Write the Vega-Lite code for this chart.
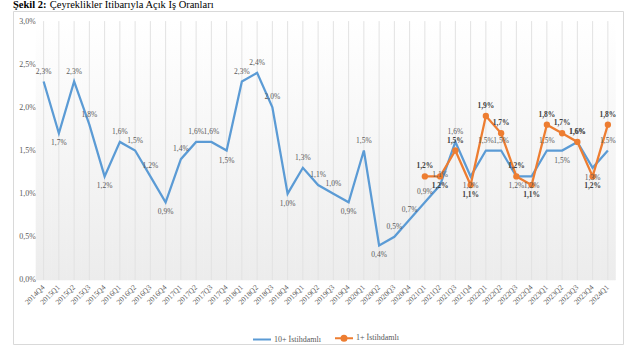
{
  "$schema": "https://vega.github.io/schema/vega-lite/v6.json",
  "width": 610,
  "height": 333,
  "autosize": {"type": "none"},
  "padding": {"left": 13, "top": 11, "right": 17, "bottom": 16},
  "background": "white",
  "config": {"view": {"stroke": "#d9d9d9", "strokeWidth": 1}, "font": "Liberation Serif"},
  "title": {
    "text": "Şekil 2:",
    "subtitle": "\u200b\u00a0\u00a0\u00a0\u00a0\u00a0\u00a0\u00a0\u00a0\u00a0\u00a0\u00a0\u00a0\u00a0\u00a0Çeyreklikler İtibarıyla Açık İş Oranları",
    "anchor": "start",
    "frame": "group",
    "font": "Liberation Serif",
    "fontSize": 10.5,
    "fontWeight": "bold",
    "color": "#000000",
    "subtitleFont": "Liberation Serif",
    "subtitleFontSize": 10.5,
    "subtitleColor": "#000000",
    "subtitleFontWeight": "normal",
    "subtitlePadding": -10.5,
    "offset": 1
  },
  "data": {
    "values": [
      {"q": "2014Q4", "s": "10+ İstihdamlı", "v": 2.3},
      {"q": "2015Q1", "s": "10+ İstihdamlı", "v": 1.7},
      {"q": "2015Q2", "s": "10+ İstihdamlı", "v": 2.3},
      {"q": "2015Q3", "s": "10+ İstihdamlı", "v": 1.8},
      {"q": "2015Q4", "s": "10+ İstihdamlı", "v": 1.2},
      {"q": "2016Q1", "s": "10+ İstihdamlı", "v": 1.6},
      {"q": "2016Q2", "s": "10+ İstihdamlı", "v": 1.5},
      {"q": "2016Q3", "s": "10+ İstihdamlı", "v": 1.2},
      {"q": "2016Q4", "s": "10+ İstihdamlı", "v": 0.9},
      {"q": "2017Q1", "s": "10+ İstihdamlı", "v": 1.4},
      {"q": "2017Q2", "s": "10+ İstihdamlı", "v": 1.6},
      {"q": "2017Q3", "s": "10+ İstihdamlı", "v": 1.6},
      {"q": "2017Q4", "s": "10+ İstihdamlı", "v": 1.5},
      {"q": "2018Q1", "s": "10+ İstihdamlı", "v": 2.3},
      {"q": "2018Q2", "s": "10+ İstihdamlı", "v": 2.4},
      {"q": "2018Q3", "s": "10+ İstihdamlı", "v": 2.0},
      {"q": "2018Q4", "s": "10+ İstihdamlı", "v": 1.0},
      {"q": "2019Q1", "s": "10+ İstihdamlı", "v": 1.3},
      {"q": "2019Q2", "s": "10+ İstihdamlı", "v": 1.1},
      {"q": "2019Q3", "s": "10+ İstihdamlı", "v": 1.0},
      {"q": "2019Q4", "s": "10+ İstihdamlı", "v": 0.9},
      {"q": "2020Q1", "s": "10+ İstihdamlı", "v": 1.5},
      {"q": "2020Q2", "s": "10+ İstihdamlı", "v": 0.4},
      {"q": "2020Q3", "s": "10+ İstihdamlı", "v": 0.5},
      {"q": "2020Q4", "s": "10+ İstihdamlı", "v": 0.7},
      {"q": "2021Q1", "s": "10+ İstihdamlı", "v": 0.9},
      {"q": "2021Q2", "s": "10+ İstihdamlı", "v": 1.1},
      {"q": "2021Q3", "s": "10+ İstihdamlı", "v": 1.6},
      {"q": "2021Q4", "s": "10+ İstihdamlı", "v": 1.2},
      {"q": "2022Q1", "s": "10+ İstihdamlı", "v": 1.5},
      {"q": "2022Q2", "s": "10+ İstihdamlı", "v": 1.5},
      {"q": "2022Q3", "s": "10+ İstihdamlı", "v": 1.2},
      {"q": "2022Q4", "s": "10+ İstihdamlı", "v": 1.2},
      {"q": "2023Q1", "s": "10+ İstihdamlı", "v": 1.5},
      {"q": "2023Q2", "s": "10+ İstihdamlı", "v": 1.5},
      {"q": "2023Q3", "s": "10+ İstihdamlı", "v": 1.6},
      {"q": "2023Q4", "s": "10+ İstihdamlı", "v": 1.3},
      {"q": "2024Q1", "s": "10+ İstihdamlı", "v": 1.5},
      {"q": "2021Q1", "s": "1+ İstihdamlı", "v": 1.2},
      {"q": "2021Q2", "s": "1+ İstihdamlı", "v": 1.2},
      {"q": "2021Q3", "s": "1+ İstihdamlı", "v": 1.5},
      {"q": "2021Q4", "s": "1+ İstihdamlı", "v": 1.1},
      {"q": "2022Q1", "s": "1+ İstihdamlı", "v": 1.9},
      {"q": "2022Q2", "s": "1+ İstihdamlı", "v": 1.7},
      {"q": "2022Q3", "s": "1+ İstihdamlı", "v": 1.2},
      {"q": "2022Q4", "s": "1+ İstihdamlı", "v": 1.1},
      {"q": "2023Q1", "s": "1+ İstihdamlı", "v": 1.8},
      {"q": "2023Q2", "s": "1+ İstihdamlı", "v": 1.7},
      {"q": "2023Q3", "s": "1+ İstihdamlı", "v": 1.6},
      {"q": "2023Q4", "s": "1+ İstihdamlı", "v": 1.2},
      {"q": "2024Q1", "s": "1+ İstihdamlı", "v": 1.8}
    ]
  },
  "encoding": {
    "x": {
      "field": "q",
      "type": "nominal",
      "sort": "ascending",
      "scale": {"type": "band", "paddingInner": 0, "paddingOuter": 1.115, "align": 0.754},
      "axis": {
        "title": null,
        "orient": "bottom",
        "offset": -64,
        "labelAngle": -45,
        "labelAlign": "right",
        "labelBaseline": "middle",
        "labelFontSize": 7.5,
        "labelColor": "#595959",
        "labelFont": "Liberation Serif",
        "labelPadding": 6,
        "labelOverlap": false,
        "ticks": false,
        "domain": false,
        "grid": false
      }
    }
  },
  "layer": [
    {
      "transform": [{"filter": {"field": "s", "equal": "10+ İstihdamlı"}}],
      "mark": {
        "type": "bar",
        "fill": {"gradient": "linear", "x1": 0, "y1": 0, "x2": 0, "y2": 1, "stops": [{"offset": 0, "color": "#ffffff"}, {"offset": 1, "color": "#ececec"}]},
        "stroke": {"gradient": "linear", "x1": 0, "y1": 0, "x2": 0, "y2": 1, "stops": [{"offset": 0, "color": "#ffffff"}, {"offset": 1, "color": "#ececec"}]},
        "strokeWidth": 0.6
      },
      "encoding": {
        "y": {
          "datum": 3.0,
          "type": "quantitative",
          "scale": {"domain": [-0.742, 3.117], "nice": false, "zero": false},
          "axis": {
            "title": null,
            "values": [0, 0.5, 1, 1.5, 2, 2.5, 3],
            "labelExpr": "replace(format(datum.value, '.1f'), '.', ',') + '%'",
            "offset": -25.5,
            "domain": false,
            "ticks": false,
            "grid": false,
            "labelFont": "Liberation Serif",
            "labelFontSize": 8,
            "labelColor": "#595959",
            "labelPadding": 3
          }
        },
        "y2": {"datum": 0}
      }
    },
    {
      "transform": [{"filter": {"field": "s", "equal": "10+ İstihdamlı"}}],
      "mark": {"type": "rule", "color": "#e2e2e2", "strokeWidth": 1},
      "encoding": {
        "y": {"datum": 0, "type": "quantitative"},
        "y2": {"datum": 3.0}
      }
    },
    {
      "mark": {"type": "line", "strokeWidth": 2.25},
      "encoding": {
        "y": {"field": "v", "type": "quantitative"},
        "color": {
          "field": "s",
          "type": "nominal",
          "scale": {"domain": ["10+ İstihdamlı", "1+ İstihdamlı"], "range": ["#5b9bd5", "#ed7d31"]},
          "legend": {
            "title": null,
            "orient": "none",
            "legendX": 239,
            "legendY": 317,
            "direction": "horizontal",
            "labelFont": "Liberation Serif",
            "labelFontSize": 8,
            "labelColor": "#595959",
            "symbolSize": 324,
            "symbolStrokeWidth": 2,
            "columnPadding": 10,
            "labelOffset": 2,
            "encode": {
              "symbols": {
                "update": {
                  "shape": {"signal": "datum.value === '1+ İstihdamlı' ? 'M-1,0H-0.28M0.28,0H1M-0.28,0A0.28,0.28 0 1,1 0.28,0A0.28,0.28 0 1,1 -0.28,0Z' : 'M-1,0H1'"},
                  "fill": {"signal": "datum.value === '1+ İstihdamlı' ? '#ed7d31' : 'transparent'"}
                }
              }
            }
          }
        }
      }
    },
    {
      "transform": [{"filter": {"field": "s", "equal": "1+ İstihdamlı"}}],
      "mark": {"type": "point", "filled": true, "size": 40, "color": "#ed7d31", "opacity": 1},
      "encoding": {"y": {"field": "v", "type": "quantitative"}}
    },
    {
      "transform": [
        {"window": [{"op": "lag", "field": "v", "as": "pv"}, {"op": "lead", "field": "v", "as": "nv"}], "groupby": ["s"], "sort": [{"field": "q"}]},
        {"calculate": "datum.pv != null && datum.nv != null && datum.v <= datum.pv && datum.v <= datum.nv", "as": "low"},
        {"calculate": "replace(format(datum.v, '.1f'), '.', ',') + '%'", "as": "lbl"},
        {"filter": {"field": "s", "equal": "10+ İstihdamlı"}},
        {"filter": "!datum.low"}
      ],
      "mark": {"type": "text", "dy": -10, "fontSize": 7.5, "color": "#595959", "font": "Liberation Serif"},
      "encoding": {"y": {"field": "v", "type": "quantitative"}, "text": {"field": "lbl"}}
    },
    {
      "transform": [
        {"window": [{"op": "lag", "field": "v", "as": "pv"}, {"op": "lead", "field": "v", "as": "nv"}], "groupby": ["s"], "sort": [{"field": "q"}]},
        {"calculate": "datum.pv != null && datum.nv != null && datum.v <= datum.pv && datum.v <= datum.nv", "as": "low"},
        {"calculate": "replace(format(datum.v, '.1f'), '.', ',') + '%'", "as": "lbl"},
        {"filter": {"field": "s", "equal": "10+ İstihdamlı"}},
        {"filter": "datum.low"}
      ],
      "mark": {"type": "text", "dy": 10, "fontSize": 7.5, "color": "#595959", "font": "Liberation Serif"},
      "encoding": {"y": {"field": "v", "type": "quantitative"}, "text": {"field": "lbl"}}
    },
    {
      "transform": [
        {"window": [{"op": "lag", "field": "v", "as": "pv"}, {"op": "lead", "field": "v", "as": "nv"}], "groupby": ["s"], "sort": [{"field": "q"}]},
        {"calculate": "datum.pv != null && datum.nv != null && datum.v <= datum.pv && datum.v <= datum.nv", "as": "low"},
        {"calculate": "replace(format(datum.v, '.1f'), '.', ',') + '%'", "as": "lbl"},
        {"filter": {"field": "s", "equal": "1+ İstihdamlı"}},
        {"filter": "!datum.low"}
      ],
      "mark": {"type": "text", "dy": -10, "fontSize": 7.5, "fontWeight": "bold", "color": "#404040", "font": "Liberation Serif"},
      "encoding": {"y": {"field": "v", "type": "quantitative"}, "text": {"field": "lbl"}}
    },
    {
      "transform": [
        {"window": [{"op": "lag", "field": "v", "as": "pv"}, {"op": "lead", "field": "v", "as": "nv"}], "groupby": ["s"], "sort": [{"field": "q"}]},
        {"calculate": "datum.pv != null && datum.nv != null && datum.v <= datum.pv && datum.v <= datum.nv", "as": "low"},
        {"calculate": "replace(format(datum.v, '.1f'), '.', ',') + '%'", "as": "lbl"},
        {"filter": {"field": "s", "equal": "1+ İstihdamlı"}},
        {"filter": "datum.low"}
      ],
      "mark": {"type": "text", "dy": 10, "fontSize": 7.5, "fontWeight": "bold", "color": "#404040", "font": "Liberation Serif"},
      "encoding": {"y": {"field": "v", "type": "quantitative"}, "text": {"field": "lbl"}}
    }
  ]
}
